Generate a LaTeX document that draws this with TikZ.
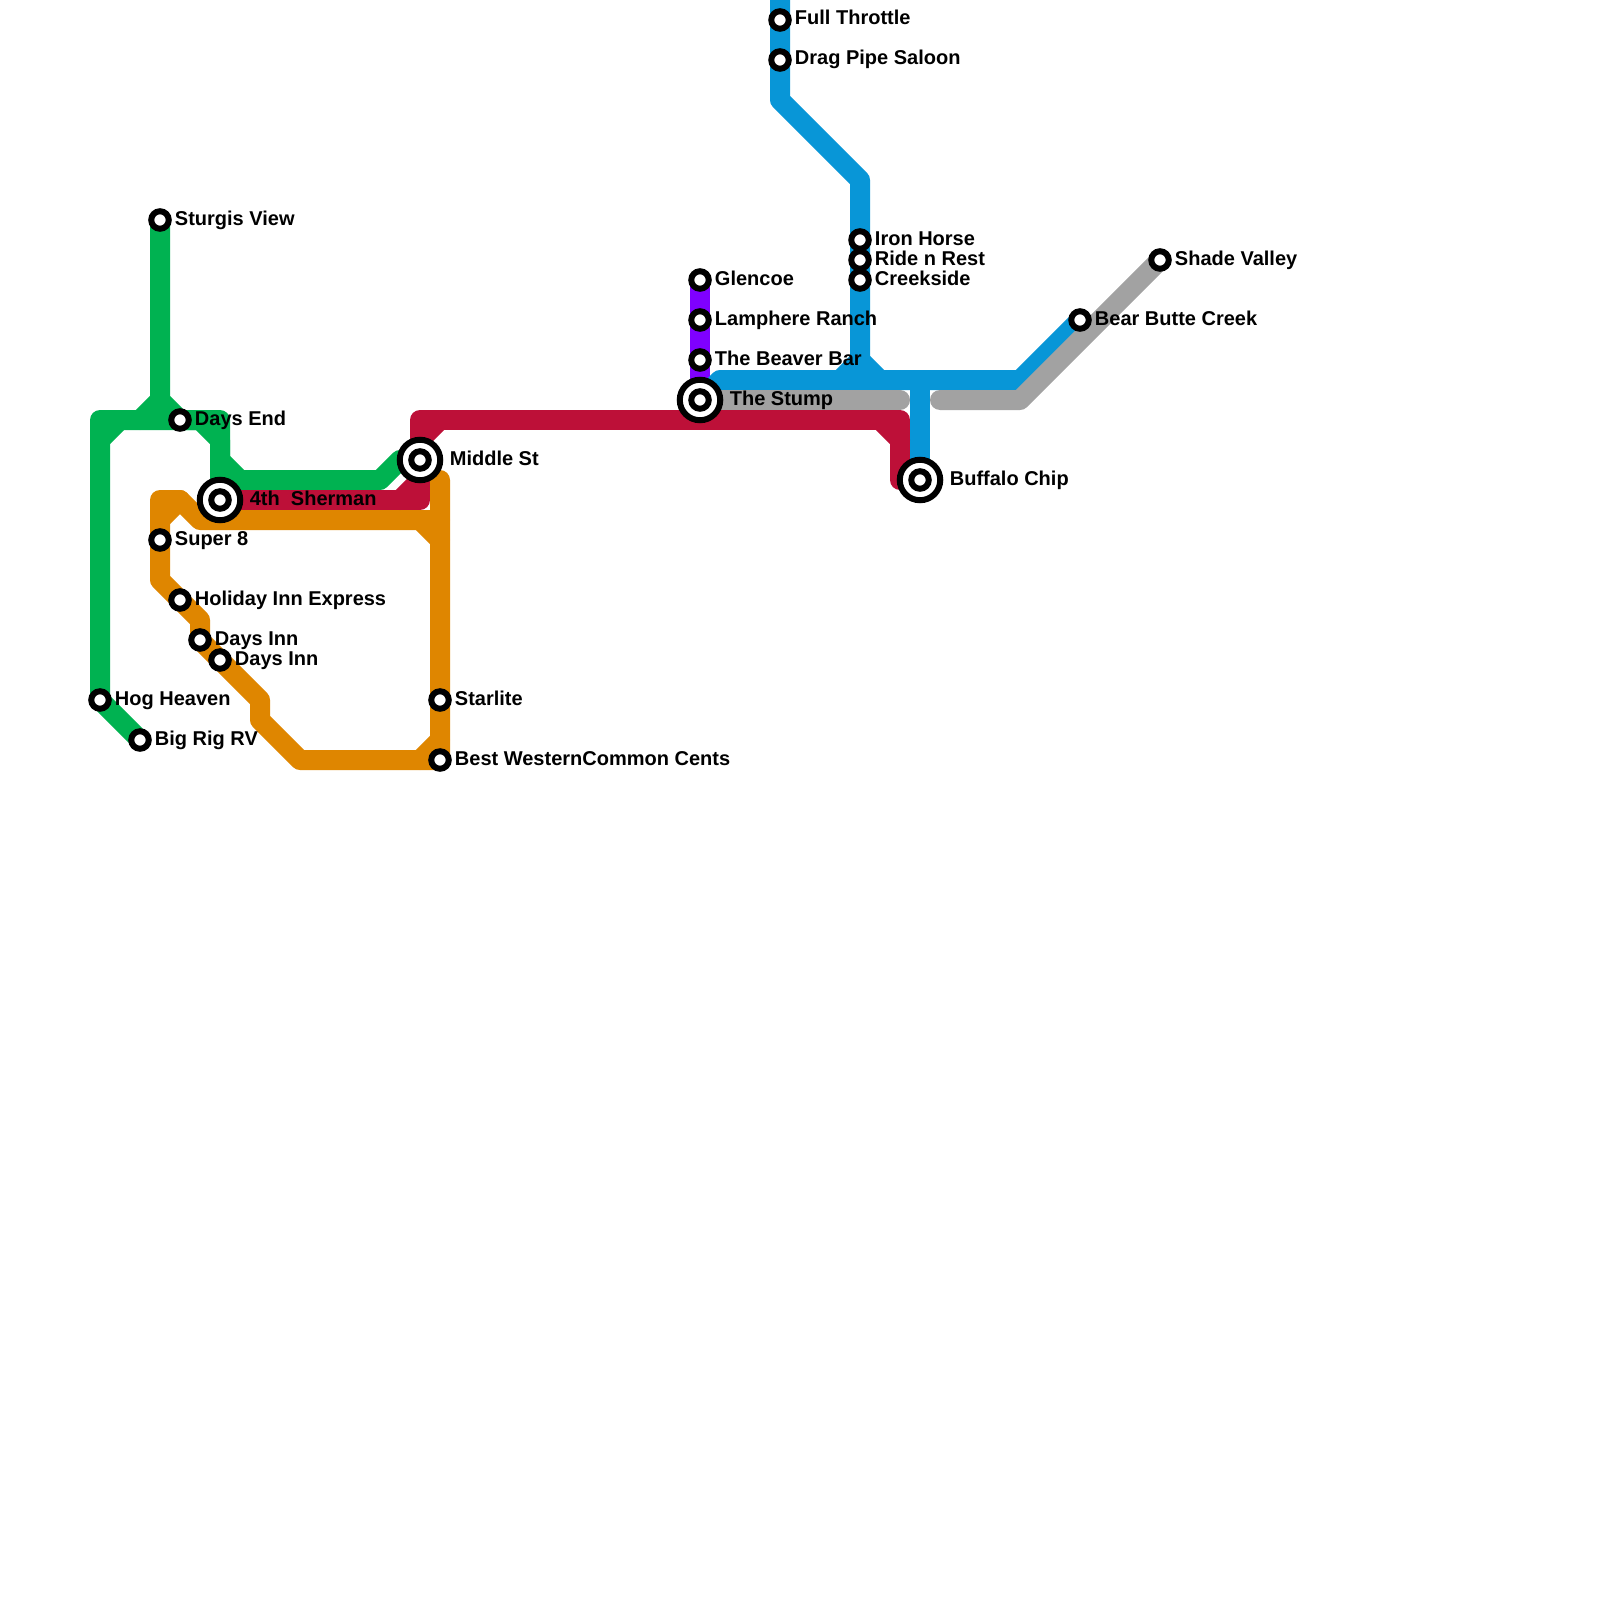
\documentclass[tikz,border=0pt]{standalone}
\usepackage{fontspec}
\setmainfont{Liberation Sans}
\usetikzlibrary{positioning,backgrounds}
\definecolor{linegreen}{HTML}{00B251}
\definecolor{lineblue}{HTML}{0896D7}
\definecolor{linered}{HTML}{BD1038}
\definecolor{lineorange}{HTML}{DF8600}
\definecolor{linegray}{HTML}{A2A2A2}
\definecolor{linepurple}{HTML}{7F00FF}
\tikzset{
  stn/.style={circle, draw=black, fill=white, line width=6pt, minimum size=17.5pt, inner sep=0pt},
  hub/.style={stn, minimum size=40.5pt},
  lab/.style={font=\bfseries\fontsize{20}{20}\selectfont, inner sep=0pt, outer sep=0pt,
              text height=14pt, text depth=4pt, text=black},
  ln/.style={line width=20pt, line join=round, line cap=round}
}

\begin{document}
\begin{tikzpicture}[x=1pt, y=-1pt, node distance=3.2pt]
  \useasboundingbox (0,0) rectangle (1600,1600);
  % stations
  \node[stn] (sturgis) at (160,220) {};
  \node[stn] (daysend) at (180,420) {};
  \node[stn] (hog) at (100,700) {};
  \node[stn] (bigrig) at (140,740) {};
  \node[hub] (sherman) at (220,500) {};
  \node[stn] (shermanc) at (220,500) {};
  \node[hub] (middle) at (420,460) {};
  \node[stn] (middlec) at (420,460) {};
  \node[stn] (super) at (160,540) {};
  \node[stn] (holiday) at (180,600) {};
  \node[stn] (daysa) at (200,640) {};
  \node[stn] (daysb) at (220,660) {};
  \node[stn] (starlite) at (440,700) {};
  \node[stn] (bestw) at (440,760) {};
  \node[stn] (glencoe) at (700,280) {};
  \node[stn] (lamphere) at (700,320) {};
  \node[stn] (beaver) at (700,360) {};
  \node[hub] (stump) at (700,400) {};
  \node[stn] (stumpc) at (700,400) {};
  \node[stn] (full) at (780,20) {};
  \node[stn] (drag) at (780,60) {};
  \node[stn] (iron) at (860,240) {};
  \node[stn] (ride) at (860,260) {};
  \node[stn] (creek) at (860,280) {};
  \node[hub] (buffalo) at (920,480) {};
  \node[stn] (buffaloc) at (920,480) {};
  \node[stn] (bear) at (1080,320) {};
  \node[stn] (shade) at (1160,260) {};
  % labels
  \node[lab, right=of sturgis] (sturgisl) {Sturgis View};
  \node[lab, right=of daysend] (daysendl) {Days End};
  \node[lab, right=of hog] (hogl) {Hog Heaven};
  \node[lab, right=of bigrig] (bigrigl) {Big Rig RV};
  \node[lab, right=6.6pt of sherman] (shermanl) {4th\ \ Sherman};
  \node[lab, right=6.6pt of middle] (middlel) {Middle St};
  \node[lab, right=of super] (superl) {Super 8};
  \node[lab, right=of holiday] (holidayl) {Holiday Inn Express};
  \node[lab, right=of daysa] (daysal) {Days Inn};
  \node[lab, right=of daysb] (daysbl) {Days Inn};
  \node[lab, right=of starlite] (starlitel) {Starlite};
  \node[lab, right=of bestw] (bestwl) {Best WesternCommon Cents};
  \node[lab, right=of glencoe] (glencoel) {Glencoe};
  \node[lab, right=of lamphere] (lampherel) {Lamphere Ranch};
  \node[lab, right=of beaver] (beaverl) {The Beaver Bar};
  \node[lab, right=6.6pt of stump] (stumpl) {The Stump};
  \node[lab, right=of full] (fulll) {Full Throttle};
  \node[lab, right=of drag] (dragl) {Drag Pipe Saloon};
  \node[lab, right=of iron] (ironl) {Iron Horse};
  \node[lab, right=of ride] (ridel) {Ride n Rest};
  \node[lab, right=of creek] (creekl) {Creekside};
  \node[lab, right=6.6pt of buffalo] (buffalol) {Buffalo Chip};
  \node[lab, right=of bear] (bearl) {Bear Butte Creek};
  \node[lab, right=of shade] (shadel) {Shade Valley};
  % bends
  \coordinate (g1) at (160,400);
  \coordinate (g2) at (140,420);
  \coordinate (g3) at (200,420);
  \coordinate (g4) at (220,440);
  \coordinate (g5) at (100,420);
  \coordinate (g6) at (100,440);
  \coordinate (g7) at (120,420);
  \coordinate (g8) at (220,420);
  \coordinate (g9) at (220,460);
  \coordinate (g10) at (240,480);
  \coordinate (g11) at (380,480);
  \coordinate (g12) at (400,460);
  \coordinate (r1) at (420,500);
  \coordinate (r2) at (420,420);
  \coordinate (r3) at (400,500);
  \coordinate (r4) at (440,420);
  \coordinate (r5) at (900,420);
  \coordinate (r6) at (880,420);
  \coordinate (r7) at (900,440);
  \coordinate (r8) at (900,480);
  \coordinate (r9) at (420,480);
  \coordinate (r10) at (420,440);
  \coordinate (o1) at (160,500);
  \coordinate (o2) at (180,500);
  \coordinate (o3) at (200,520);
  \coordinate (o4) at (440,520);
  \coordinate (o5) at (160,520);
  \coordinate (o6) at (160,580);
  \coordinate (o7) at (200,620);
  \coordinate (o8) at (260,700);
  \coordinate (o9) at (260,720);
  \coordinate (o10) at (300,760);
  \coordinate (o11) at (440,480);
  \coordinate (o12) at (420,520);
  \coordinate (o13) at (440,540);
  \coordinate (o14) at (420,760);
  \coordinate (o15) at (440,740);
  \coordinate (b0) at (780,0);
  \coordinate (b1) at (780,100);
  \coordinate (b2) at (860,180);
  \coordinate (b3) at (860,360);
  \coordinate (b4) at (840,380);
  \coordinate (b5) at (880,380);
  \coordinate (b6) at (720,380);
  \coordinate (b7) at (1020,380);
  \coordinate (b8) at (920,380);
  \coordinate (s1) at (900,400);
  \coordinate (s2) at (940,400);
  \coordinate (s3) at (1020,400);
  % lines
  \begin{scope}[on background layer]
    \draw[ln, linepurple] (glencoe.center) -- (lamphere.center) -- (beaver.center) -- (stump.center);
    \draw[ln, lineblue] (b0) -- (full.center) -- (drag.center) -- (b1) -- (b2) -- (iron.center) -- (ride.center) -- (creek.center) -- (b3);
    \draw[ln, lineblue] (b4) -- (b3) -- (b5);
    \draw[ln, lineblue] (stump.center) -- (b6) -- (b7) -- (bear.center);
    \draw[ln, lineblue] (b8) -- (buffalo.center);
    \draw[ln, linegray] (stump.center) -- (s1);
    \draw[ln, linegray] (s2) -- (s3) -- (shade.center);
    \draw[ln, lineorange] (super.center) -- (o6) -- (holiday.center) -- (o7) -- (daysa.center) -- (daysb.center) -- (o8) -- (o9) -- (o10) -- (bestw.center) -- (starlite.center) -- (o11);
    \draw[ln, lineorange] (super.center) -- (o1) -- (o2) -- (o3) -- (o4);
    \draw[ln, lineorange] (o5) -- (o2);
    \draw[ln, lineorange] (o12) -- (o13);
    \draw[ln, lineorange] (o14) -- (o15);
    \draw[ln, linegreen] (sturgis.center) -- (g1) -- (daysend.center) -- (g3) -- (g4) -- (sherman.center);
    \draw[ln, linegreen] (g1) -- (g2);
    \draw[ln, linegreen] (bigrig.center) -- (hog.center) -- (g5) -- (g8) -- (g9) -- (g10) -- (g11) -- (g12);
    \draw[ln, linegreen] (g6) -- (g7);
    \draw[ln, linered] (sherman.center) -- (r1) -- (r2) -- (r5) -- (r8) -- (buffalo.center);
    \draw[ln, linered] (r3) -- (r9);
    \draw[ln, linered] (r10) -- (r4);
    \draw[ln, linered] (r6) -- (r7);
  \end{scope}
\end{tikzpicture}
\end{document}
